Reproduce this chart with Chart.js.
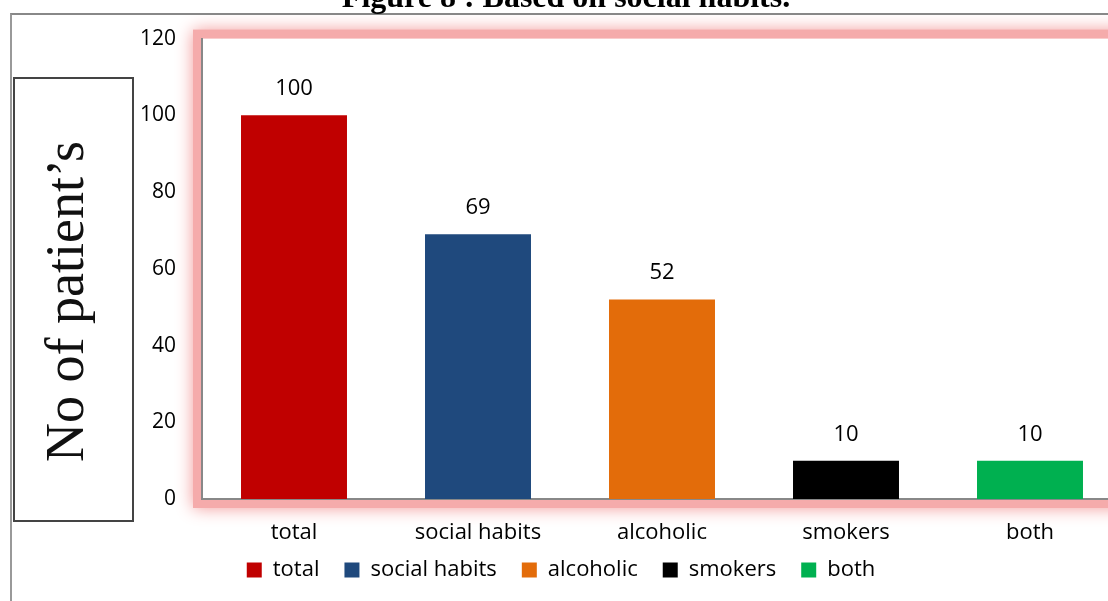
<!DOCTYPE html>
<html>
<head>
<meta charset="utf-8">
<script src="https://cdn.jsdelivr.net/npm/chart.js@4.4.1/dist/chart.umd.min.js"></script>
<style>
  html, body { margin: 0; padding: 0; background: #fff; overflow: hidden; width: 1108px; height: 601px; }
  #wrap { position: absolute; left: 0; top: 0; width: 1130px; height: 601px; }
  #title {
    position: absolute; left: 0; top: -20px; width: 1132px; height: 33px;
    text-align: center; font: bold 32px/32px "Liberation Serif", serif; color: #000;
    background: #fff; z-index: 3; white-space: nowrap;
  }
  #frame {
    position: absolute; left: 10px; top: 13px; width: 1200px; height: 700px;
    border-top: 2px solid #888; border-left: 2px solid #999; z-index: 2; pointer-events: none;
  }
  #ylabel {
    position: absolute; left: 13px; top: 77px; width: 121px; height: 445px;
    box-sizing: border-box; border: 2px solid #444; background: #fff; z-index: 4; overflow: hidden;
  }
  #ylabel span {
    position: absolute; left: -162px; top: 162px; width: 445px; height: 121px;
    transform: rotate(-90deg); text-align: center;
    font: 54px/100px "Liberation Serif", serif; color: #111; white-space: nowrap;
  }
</style>
</head>
<body>
<div id="title">Figure 8 : Based on social habits.</div>
<div id="frame"></div>
<div id="ylabel"><span>No of patient’s</span></div>
<div id="wrap"><canvas id="chart"></canvas></div>
<script>
// data
const categories = ['total', 'social habits', 'alcoholic', 'smokers', 'both'];
const patients = [100, 69, 52, 10, 10];
const barColors = ['#c00000', '#1f497d', '#e36c0a', '#000000', '#00b050'];
const yTicks = [0, 20, 40, 60, 80, 100, 120];

const SANS = '"Open Sans", "Noto Sans", sans-serif';

// pink glow around the plot area, like the Excel shape effect
const glowPlugin = {
  id: 'glow',
  beforeDraw(chart) {
    const { ctx, chartArea: a } = chart;
    ctx.save();
    ctx.shadowColor = 'rgba(242,150,150,1)';
    ctx.shadowBlur = 16;
    ctx.fillStyle = '#f5abab';
    ctx.fillRect(a.left - 9, a.top - 9, a.right - a.left + 18, a.bottom - a.top + 18);
    ctx.shadowColor = 'transparent';
    ctx.shadowBlur = 0;
    ctx.fillStyle = '#fff';
    ctx.fillRect(a.left, a.top, a.right - a.left, a.bottom - a.top);
    ctx.restore();
  },
};

// the bottom legend box keeps spare room below its row; lift it up to sit under the axis labels
const liftLegend = {
  id: 'liftLegend',
  afterLayout(chart) {
    const lg = chart.legend;
    if (!lg) return;
    lg.top -= 10;
    lg.bottom -= 10;
  },
};

// value above each bar
const valueLabels = {
  id: 'valueLabels',
  afterDatasetsDraw(chart) {
    const { ctx } = chart;
    const meta = chart.getDatasetMeta(0);
    ctx.save();
    ctx.font = '22px ' + SANS;
    ctx.fillStyle = '#000';
    ctx.textAlign = 'center';
    ctx.textBaseline = 'alphabetic';
    meta.data.forEach((bar, i) => {
      ctx.fillText(String(patients[i]), bar.x, bar.y - 20);
    });
    ctx.restore();
  },
};

new Chart(document.getElementById('chart'), {
  type: 'bar',
  data: {
    labels: categories,
    datasets: [{
      label: 'No of patients',
      data: patients,
      backgroundColor: barColors,
      borderWidth: 0,
      barPercentage: 1,
      categoryPercentage: 0.576,
    }],
  },
  options: {
    responsive: true,
    maintainAspectRatio: false,
    animation: false,
    layout: { padding: { top: 38, left: 0, right: 8, bottom: 0 } },
    plugins: {
      title: { display: false },
      tooltip: { enabled: false },
      legend: {
        display: true,
        position: 'bottom',
        labels: {
          color: '#000',
          font: { family: SANS, size: 22 },
          boxWidth: 15,
          boxHeight: 15,
          padding: 25,
          generateLabels: () => categories.map((c, i) => ({
            text: c,
            fillStyle: barColors[i],
            strokeStyle: barColors[i],
            lineWidth: 0,
            hidden: false,
            index: i,
          })),
        },
      },
    },
    scales: {
      x: {
        grid: { display: false, drawTicks: false },
        border: { display: true, color: '#888', width: 2 },
        ticks: { color: '#000', font: { family: SANS, size: 22 }, padding: 21, maxRotation: 0 },
        afterFit(scale) { scale.height = 45; },
      },
      y: {
        min: 0,
        max: 120,
        afterBuildTicks(scale) { scale.ticks = yTicks.map((v) => ({ value: v })); },
        grid: { display: false, drawTicks: false },
        border: { display: true, color: '#888', width: 2 },
        ticks: { color: '#000', font: { family: SANS, size: 21 }, padding: 26 },
        afterFit(scale) { scale.width = 202; },
      },
    },
  },
  plugins: [glowPlugin, liftLegend, valueLabels],
});
</script>
</body>
</html>
